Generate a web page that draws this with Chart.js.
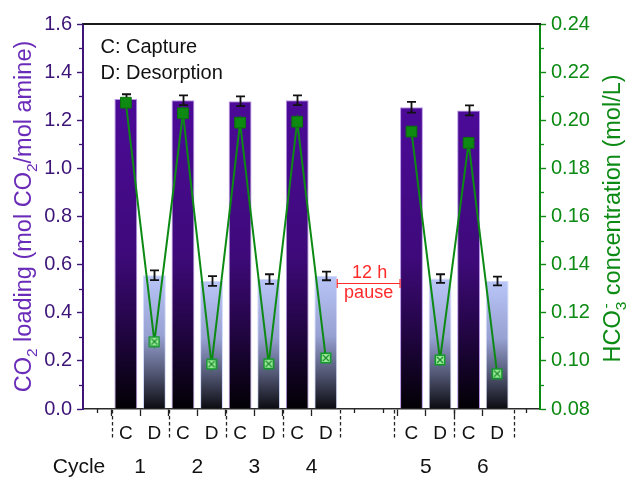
<!DOCTYPE html>
<html>
<head>
<meta charset="utf-8">
<script src="https://cdn.jsdelivr.net/npm/chart.js@4.4.0/dist/chart.umd.min.js"></script>
<style>
html,body{margin:0;padding:0;background:#fff;}
#wrap{width:627px;height:478px;position:relative;}
</style>
</head>
<body>
<div id="wrap"><canvas id="c" width="627" height="478"></canvas></div>
<script>
// ---------------- data ----------------
const cycles = ['1', '2', '3', '4', '5', '6'];
const capturePos = [1, 3, 5, 7, 11, 13];
const desorbPos = [2, 4, 6, 8, 12, 14];
const captureLoading = [1.288, 1.283, 1.279, 1.283, 1.254, 1.241];
const captureLoadingErr = [0.020, 0.020, 0.020, 0.020, 0.022, 0.021];
const desorbLoading = [0.556, 0.532, 0.540, 0.553, 0.542, 0.532];
const desorbLoadingErr = [0.020, 0.020, 0.020, 0.018, 0.018, 0.018];
const captureHCO3 = [0.2073, 0.2029, 0.1990, 0.1994, 0.1953, 0.1906];
const desorbHCO3 = [0.1080, 0.0986, 0.0988, 0.1012, 0.1004, 0.0947];
const xTickPos = [0, 1, 2, 3, 4, 5, 6, 7, 8, 9, 10, 11, 12, 13, 14, 15];
const xTickLabels = ['', 'C', 'D', 'C', 'D', 'C', 'D', 'C', 'D', '', '', 'C', 'D', 'C', 'D', ''];
const separatorPos = [0.5, 2.5, 4.5, 6.5, 8.5, 10.4, 12.5, 14.6];
const pauseSpan = [8.4, 10.6];
const pauseText = ['12 h', 'pause'];
const legendText = ['C: Capture', 'D: Desorption'];
const cycleTitle = 'Cycle';
const leftTitle = [{t: 'CO'}, {t: '2', sub: true}, {t: ' loading (mol CO'}, {t: '2', sub: true}, {t: '/mol amine)'}];
const rightTitle = [{t: 'HCO'}, {t: '3', sub: true, stack: true}, {t: '-', sup: true}, {t: ' concentration (mol/L)'}];

// ---------------- styles ----------------
const FONT = '"Liberation Sans", Arial, Helvetica, sans-serif';
const PURPLE_TICK = '#3d1478';
const PURPLE_TITLE = '#6a2bb8';
const GREEN = '#0c8a14';
const cStops = [[0, '#4c0a98'], [0.5, '#3e0a7a'], [0.7, '#28064e'], [0.86, '#130327'], [1, '#020104']];
const dStops = [[0, '#bac6f8'], [0.45, '#97a1d2'], [0.72, '#555a78'], [1, '#0b0b10']];

// build data
const barData = [];
const lineData = [];
for (let i = 0; i < cycles.length; i++) {
  barData.push({x: capturePos[i], y: captureLoading[i], err: captureLoadingErr[i], kind: 'C'});
  barData.push({x: desorbPos[i], y: desorbLoading[i], err: desorbLoadingErr[i], kind: 'D'});
  lineData.push({x: capturePos[i], y: captureHCO3[i], kind: 'C'});
  lineData.push({x: desorbPos[i], y: desorbHCO3[i], kind: 'D'});
  if (i < cycles.length - 1 && capturePos[i + 1] - desorbPos[i] > 1) {
    lineData.push({x: (desorbPos[i] + capturePos[i + 1]) / 2, y: null});
  }
}

// desorption marker: light green square with cross
const dMarker = document.createElement('canvas');
dMarker.width = 12; dMarker.height = 12;
(function () {
  const m = dMarker.getContext('2d');
  m.fillStyle = '#a4f0a0';
  m.fillRect(1, 1, 10, 10);
  m.strokeStyle = '#139a2a';
  m.lineWidth = 1.6;
  m.strokeRect(1.3, 1.3, 9.4, 9.4);
  m.beginPath();
  m.moveTo(3, 3); m.lineTo(9, 9);
  m.moveTo(9, 3); m.lineTo(3, 9);
  m.lineWidth = 1.3;
  m.strokeStyle = '#1c8a2c';
  m.stroke();
})();

function barGradient(ctx) {
  const chart = ctx.chart;
  const raw = ctx.raw;
  const area = chart.chartArea;
  if (!area || !raw) return '#3d0974';
  const ys = chart.scales.y;
  const top = ys.getPixelForValue(raw.y);
  const bot = ys.getPixelForValue(0);
  const g = chart.ctx.createLinearGradient(0, top, 0, bot);
  (raw.kind === 'D' ? dStops : cStops).forEach(s => g.addColorStop(s[0], s[1]));
  return g;
}

function drawRich(ctx, segs, cx, cy, size, color) {
  ctx.save();
  ctx.translate(cx, cy);
  ctx.rotate(-Math.PI / 2);
  ctx.fillStyle = color;
  ctx.textBaseline = 'alphabetic';
  ctx.textAlign = 'left';
  const parts = segs.map(s => {
    const fs = (s.sub || s.sup) ? size * 0.66 : size;
    ctx.font = fs + 'px ' + FONT;
    return Object.assign({}, s, {fs: fs, w: ctx.measureText(s.t).width});
  });
  let total = 0;
  for (let i = 0; i < parts.length; i++) {
    const p = parts[i];
    if (p.stack) {
      const n = parts[i + 1];
      total += Math.max(p.w, n ? n.w : 0);
      i++;
    } else total += p.w;
  }
  let x = -total / 2;
  const base = size * 0.358;
  for (let i = 0; i < parts.length; i++) {
    const p = parts[i];
    ctx.font = p.fs + 'px ' + FONT;
    const yOff = p.sub ? size * 0.24 : (p.sup ? -size * 0.42 : 0);
    ctx.fillText(p.t, x, base + yOff);
    if (p.stack) {
      const n = parts[i + 1];
      if (n) {
        ctx.font = n.fs + 'px ' + FONT;
        const y2 = n.sub ? size * 0.24 : (n.sup ? -size * 0.42 : 0);
        ctx.fillText(n.t, x + (p.w - n.w) / 2, base + y2);
      }
      x += Math.max(p.w, n ? n.w : 0);
      i++;
    } else x += p.w;
  }
  ctx.restore();
}

const decor = {
  id: 'decor',
  afterDatasetDraw(chart, args) {
    if (args.index !== 1) return;
    const ctx = chart.ctx;
    const xs = chart.scales.x, ys = chart.scales.y;
    ctx.save();
    ctx.strokeStyle = '#111';
    ctx.lineWidth = 1.8;
    barData.forEach(d => {
      const x = Math.round(xs.getPixelForValue(d.x)) + 0.5;
      const y1 = ys.getPixelForValue(d.y + d.err);
      const y2 = ys.getPixelForValue(d.y - d.err);
      ctx.beginPath();
      ctx.moveTo(x, y1); ctx.lineTo(x, y2);
      ctx.moveTo(x - 4.5, y1); ctx.lineTo(x + 4.5, y1);
      ctx.moveTo(x - 4.5, y2); ctx.lineTo(x + 4.5, y2);
      ctx.stroke();
    });
    ctx.restore();
  },
  afterDraw(chart) {
    const ctx = chart.ctx;
    const a = chart.chartArea;
    const xs = chart.scales.x, ys = chart.scales.y, y1s = chart.scales.y1;
    ctx.save();
    // top frame
    ctx.strokeStyle = '#1a1a1a';
    ctx.lineWidth = 2;
    ctx.beginPath();
    ctx.moveTo(a.left, a.top); ctx.lineTo(a.right + 1, a.top);
    ctx.stroke();
    // minor ticks on y axes
    ctx.lineWidth = 1.3;
    ctx.strokeStyle = PURPLE_TICK;
    for (let i = 0; i < ys.ticks.length - 1; i++) {
      const v = (ys.ticks[i].value + ys.ticks[i + 1].value) / 2;
      const y = Math.round(ys.getPixelForValue(v)) + 0.5;
      ctx.beginPath(); ctx.moveTo(a.left - 4, y); ctx.lineTo(a.left, y); ctx.stroke();
    }
    ctx.strokeStyle = GREEN;
    for (let i = 0; i < y1s.ticks.length - 1; i++) {
      const v = (y1s.ticks[i].value + y1s.ticks[i + 1].value) / 2;
      const y = Math.round(y1s.getPixelForValue(v)) + 0.5;
      ctx.beginPath(); ctx.moveTo(a.right, y); ctx.lineTo(a.right + 4, y); ctx.stroke();
    }
    // minor x ticks (unlabelled)
    ctx.strokeStyle = '#222';
    xTickPos.forEach((p, i) => {
      if (xTickLabels[i]) return;
      const x = Math.round(xs.getPixelForValue(p)) + 0.5;
      ctx.beginPath(); ctx.moveTo(x, a.bottom); ctx.lineTo(x, a.bottom + 4); ctx.stroke();
    });
    // dashed separators
    ctx.setLineDash([3.5, 2.5]);
    ctx.lineWidth = 1.3;
    ctx.strokeStyle = '#222';
    separatorPos.forEach(p => {
      const x = Math.round(xs.getPixelForValue(p)) + 0.5;
      ctx.beginPath(); ctx.moveTo(x, a.bottom + 1); ctx.lineTo(x, a.bottom + 31); ctx.stroke();
    });
    ctx.setLineDash([]);
    // cycle row
    ctx.fillStyle = '#111';
    ctx.font = '21px ' + FONT;
    ctx.textAlign = 'center';
    ctx.textBaseline = 'alphabetic';
    ctx.fillText(cycleTitle, 79, a.bottom + 64);
    cycles.forEach((c, i) => {
      ctx.fillText(c, xs.getPixelForValue((capturePos[i] + desorbPos[i]) / 2), a.bottom + 64);
    });
    // legend text
    ctx.textAlign = 'left';
    ctx.font = '20px ' + FONT;
    ctx.fillText(legendText[0], a.left + 17.5, a.top + 28.5);
    ctx.fillText(legendText[1], a.left + 17.5, a.top + 55);
    // pause annotation
    const px1 = xs.getPixelForValue(pauseSpan[0]);
    const px2 = xs.getPixelForValue(pauseSpan[1]);
    const py = Math.round(ys.getPixelForValue(0.524)) + 0.5;
    ctx.strokeStyle = '#ff2b2b';
    ctx.lineWidth = 1.2;
    ctx.beginPath();
    ctx.moveTo(px1, py); ctx.lineTo(px2, py);
    ctx.moveTo(px1, py - 4.5); ctx.lineTo(px1, py + 4.5);
    ctx.moveTo(px2, py - 4.5); ctx.lineTo(px2, py + 4.5);
    ctx.stroke();
    ctx.fillStyle = '#ff2b2b';
    ctx.font = '18px ' + FONT;
    ctx.textAlign = 'center';
    const pmx = (px1 + px2) / 2;
    ctx.fillText(pauseText[0], pmx + 1, py - 6);
    ctx.fillText(pauseText[1], pmx, py + 14);
    ctx.restore();
    // axis titles
    const cy = (a.top + a.bottom) / 2;
    drawRich(ctx, leftTitle, 23, cy, 23.5, PURPLE_TITLE);
    drawRich(ctx, rightTitle, 612, cy + 2, 23.5, GREEN);
  }
};

new Chart(document.getElementById('c'), {
  type: 'bar',
  data: {
    datasets: [
      {
        type: 'line',
        data: lineData,
        xAxisID: 'x',
        yAxisID: 'y1',
        order: 0,
        borderColor: GREEN,
        borderWidth: 2,
        spanGaps: false,
        tension: 0,
        pointStyle: ctx => (ctx.raw && ctx.raw.kind === 'D') ? dMarker : 'rect',
        pointRadius: 7.6,
        pointBackgroundColor: '#0e8a12',
        pointBorderColor: '#0a700c',
        pointBorderWidth: 1
      },
      {
        type: 'bar',
        data: barData,
        xAxisID: 'x',
        yAxisID: 'y',
        order: 1,
        grouped: false,
        barPercentage: 0.8,
        categoryPercentage: 1,
        backgroundColor: barGradient,
        borderColor: ctx => (ctx.raw && ctx.raw.kind === 'D') ? 'rgba(205,214,250,0.9)' : 'rgba(176,136,228,0.9)',
        borderWidth: {left: 1, right: 1, top: 1, bottom: 0},
        borderSkipped: 'bottom'
      }
    ]
  },
  options: {
    responsive: false,
    animation: false,
    events: [],
    layout: {padding: {top: 24, left: 0, right: 0, bottom: 0}},
    plugins: {legend: {display: false}, tooltip: {enabled: false}, title: {display: false}},
    scales: {
      x: {
        type: 'linear',
        position: 'bottom',
        min: -0.5,
        max: 15.5,
        offset: false,
        afterBuildTicks: s => { s.ticks = xTickPos.map(v => ({value: v})); },
        afterFit: s => { s.height = 69; },
        grid: {
          drawOnChartArea: false,
          drawTicks: true,
          tickLength: 7,
          tickWidth: 1.3,
          tickColor: c => xTickLabels[c.index] ? '#222' : 'rgba(0,0,0,0)'
        },
        border: {display: true, color: '#2a2a2a', width: 1.5},
        ticks: {
          autoSkip: false,
          maxRotation: 0,
          padding: 6,
          color: '#111',
          font: {family: FONT, size: 19},
          callback: (v, i) => xTickLabels[i]
        }
      },
      y: {
        type: 'linear',
        position: 'left',
        min: 0,
        max: 1.6,
        afterFit: s => { s.width = 83; },
        grid: {drawOnChartArea: false, tickLength: 6, tickWidth: 1.4, tickColor: PURPLE_TICK},
        border: {display: true, color: PURPLE_TICK, width: 2},
        ticks: {
          stepSize: 0.2,
          padding: 5,
          color: PURPLE_TICK,
          font: {family: FONT, size: 20},
          callback: v => Number(v).toFixed(1)
        }
      },
      y1: {
        type: 'linear',
        position: 'right',
        min: 0.08,
        max: 0.24,
        afterFit: s => { s.width = 87; },
        grid: {drawOnChartArea: false, tickLength: 6, tickWidth: 1.4, tickColor: GREEN},
        border: {display: true, color: GREEN, width: 2},
        ticks: {
          stepSize: 0.02,
          padding: 5,
          color: GREEN,
          font: {family: FONT, size: 20},
          callback: v => Number(v).toFixed(2)
        }
      }
    }
  },
  plugins: [decor]
});
</script>
</body>
</html>
